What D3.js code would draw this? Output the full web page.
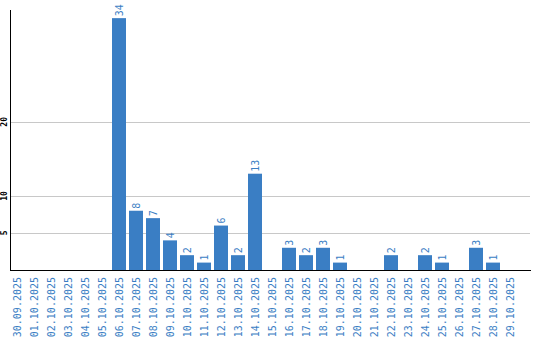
<!DOCTYPE html>
<html>
<head>
<meta charset="utf-8">
<script src="https://cdn.jsdelivr.net/npm/d3@7"></script>
<style>
  body { margin: 0; background: #fff; }
  svg { display: block; }
</style>
</head>
<body>
<div id="plot"></div>
<script>
// daily counts
var dates = ['30.09.2025', '01.10.2025', '02.10.2025', '03.10.2025', '04.10.2025',
    '05.10.2025', '06.10.2025', '07.10.2025', '08.10.2025', '09.10.2025',
    '10.10.2025', '11.10.2025', '12.10.2025', '13.10.2025', '14.10.2025',
    '15.10.2025', '16.10.2025', '17.10.2025', '18.10.2025', '19.10.2025',
    '20.10.2025', '21.10.2025', '22.10.2025', '23.10.2025', '24.10.2025',
    '25.10.2025', '26.10.2025', '27.10.2025', '28.10.2025', '29.10.2025'];
var counts = [0, 0, 0, 0, 0, 0, 34, 8, 7, 4, 2, 1, 6, 2, 13, 0, 3, 2, 3, 1,
    0, 0, 2, 0, 2, 1, 0, 3, 1, 0];
var yTicks = [5, 10, 20];

var width = 540, height = 340;
var blue = '#3a7ec4';

var svg = d3.select('#plot').append('svg')
    .attr('width', width)
    .attr('height', height);

// scales
var xScale = d3.scaleBand()
    .domain(dates)
    .range([8.5, 518.5])
    .paddingInner(3 / 17)
    .paddingOuter(1.5 / 17);

var yScale = d3.scaleLinear()
    .domain([0, 35.1])
    .range([270, 10]);

// gridlines
svg.append('g')
    .selectAll('line')
    .data(yTicks)
    .join('line')
    .attr('x1', 10)
    .attr('x2', 530)
    .attr('y1', function(d) { return Math.round(yScale(d)) + 0.5; })
    .attr('y2', function(d) { return Math.round(yScale(d)) + 0.5; })
    .attr('stroke', '#c8c8c8');

// y tick labels (rotated)
svg.append('g')
    .selectAll('text')
    .data(yTicks)
    .join('text')
    .attr('transform', function(d) { return 'translate(7,' + yScale(d) + ') rotate(-90)'; })
    .attr('text-anchor', 'middle')
    .attr('font-family', 'DejaVu Sans Mono, monospace')
    .attr('font-size', 8)
    .attr('font-weight', 'bold')
    .attr('fill', '#000')
    .text(function(d) { return d; });

// bars
var data = dates.map(function(d, i) { return {date: d, value: counts[i]}; });

svg.append('g')
    .selectAll('rect')
    .data(data.filter(function(d) { return d.value > 0; }))
    .join('rect')
    .attr('x', function(d) { return xScale(d.date); })
    .attr('width', xScale.bandwidth())
    .attr('y', function(d) { return yScale(d.value); })
    .attr('height', function(d) { return yScale(0) - yScale(d.value); })
    .attr('fill', blue);

// value labels above bars
svg.append('g')
    .selectAll('text')
    .data(data.filter(function(d) { return d.value > 0; }))
    .join('text')
    .attr('transform', function(d) {
        var cx = xScale(d.date) + xScale.bandwidth() / 2;
        return 'translate(' + (cx + 3.5) + ',' + (yScale(d.value) - 2) + ') rotate(-90)';
    })
    .attr('text-anchor', 'start')
    .attr('font-family', 'DejaVu Sans Mono, monospace')
    .attr('font-size', 10)
    .attr('fill', blue)
    .text(function(d) { return d.value; });

// axes lines
svg.append('line')
    .attr('x1', 10.5).attr('x2', 10.5)
    .attr('y1', 10).attr('y2', 270)
    .attr('stroke', '#000');
svg.append('line')
    .attr('x1', 10).attr('x2', 531)
    .attr('y1', 270.5).attr('y2', 270.5)
    .attr('stroke', '#000');

// date labels
svg.append('g')
    .selectAll('text')
    .data(dates)
    .join('text')
    .attr('transform', function(d) {
        var cx = xScale(d) + xScale.bandwidth() / 2;
        return 'translate(' + (cx + 3.5) + ',277) rotate(-90)';
    })
    .attr('text-anchor', 'end')
    .attr('font-family', 'DejaVu Sans Mono, monospace')
    .attr('font-size', 10)
    .attr('fill', blue)
    .text(function(d) { return d; });
</script>
</body>
</html>
